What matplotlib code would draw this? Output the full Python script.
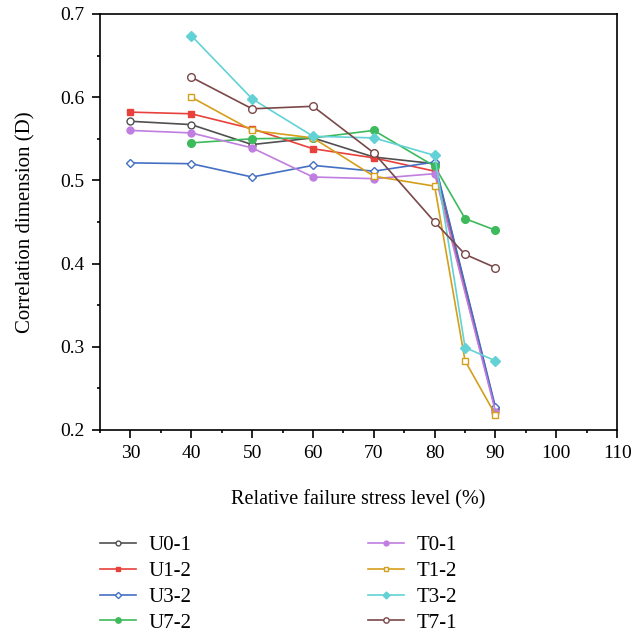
import matplotlib
matplotlib.use("Agg")
import matplotlib.pyplot as plt
from matplotlib.ticker import MultipleLocator

plt.rcParams['font.family'] = ['Liberation Serif', 'DejaVu Serif']

# Stress levels (%) and correlation dimension for each specimen
x_a = [30, 40, 50, 60, 70, 80, 90]
x_b = [40, 50, 60, 70, 80, 85, 90]

u0_1 = [0.571, 0.567, 0.543, 0.551, 0.528, 0.520, 0.225]
u1_2 = [0.582, 0.580, 0.562, 0.538, 0.527, 0.511, 0.224]
u3_2 = [0.521, 0.520, 0.504, 0.518, 0.511, 0.522, 0.227]
u7_2 = [0.545, 0.550, 0.551, 0.560, 0.517, 0.454, 0.440]
t0_1 = [0.560, 0.557, 0.539, 0.504, 0.502, 0.508, 0.222]
t1_2 = [0.600, 0.560, 0.551, 0.505, 0.493, 0.283, 0.218]
t3_2 = [0.674, 0.598, 0.553, 0.551, 0.530, 0.299, 0.283]
t7_1 = [0.624, 0.586, 0.589, 0.533, 0.450, 0.411, 0.395]

fig = plt.figure(figsize=(6.33, 6.35), dpi=100)
ax = fig.add_axes([0.158, 0.323, 0.817, 0.655])

ms = 5
lw = 1.2
ax.plot(x_a, u0_1, color='#505050', marker='o', mfc='white', ms=ms, lw=lw, label='U0-1')
ax.plot(x_a, u1_2, color='#e8413b', marker='s', ms=ms, lw=lw, label='U1-2')
ax.plot(x_a, u3_2, color='#4470c4', marker='D', mfc='white', ms=ms - 0.5, lw=lw, label='U3-2')
ax.plot(x_b, u7_2, color='#3dba5b', marker='o', ms=ms + 0.5, lw=lw, label='U7-2')
ax.plot(x_a, t0_1, color='#c07ee0', marker='o', ms=ms, lw=lw, label='T0-1')
ax.plot(x_b, t1_2, color='#d49f1a', marker='s', mfc='white', ms=ms, lw=lw, label='T1-2')
ax.plot(x_b, t3_2, color='#62d2d6', marker='D', ms=ms, lw=lw, label='T3-2')
ax.plot(x_b, t7_1, color='#7a4848', marker='o', mfc='white', ms=ms + 0.5, lw=lw, label='T7-1')

ax.set_xlim(25, 110)
ax.set_ylim(0.2, 0.7)
ax.xaxis.set_major_locator(MultipleLocator(10))
ax.xaxis.set_minor_locator(MultipleLocator(5))
ax.yaxis.set_major_locator(MultipleLocator(0.1))
ax.yaxis.set_minor_locator(MultipleLocator(0.05))
ax.tick_params(which='both', direction='out', top=False, right=False, labelsize=14)
ax.tick_params(which='major', length=6, width=1.2, pad=5)
ax.tick_params(which='minor', length=2.5, width=1.2)

for s in ax.spines.values():
    s.set_linewidth(1.2)

ax.set_xlabel('Relative failure stress level (%)', fontsize=14.5, labelpad=20)
ax.set_ylabel('Correlation dimension (D)', fontsize=15, labelpad=18)

fig.legend(loc='upper left', bbox_to_anchor=(0.129, 0.186), ncol=2, frameon=False,
           fontsize=15, handlelength=1.7, handletextpad=0.6, columnspacing=8.5,
           labelspacing=0.3, markerscale=0.7)

fig.savefig('out.png', dpi=100)
